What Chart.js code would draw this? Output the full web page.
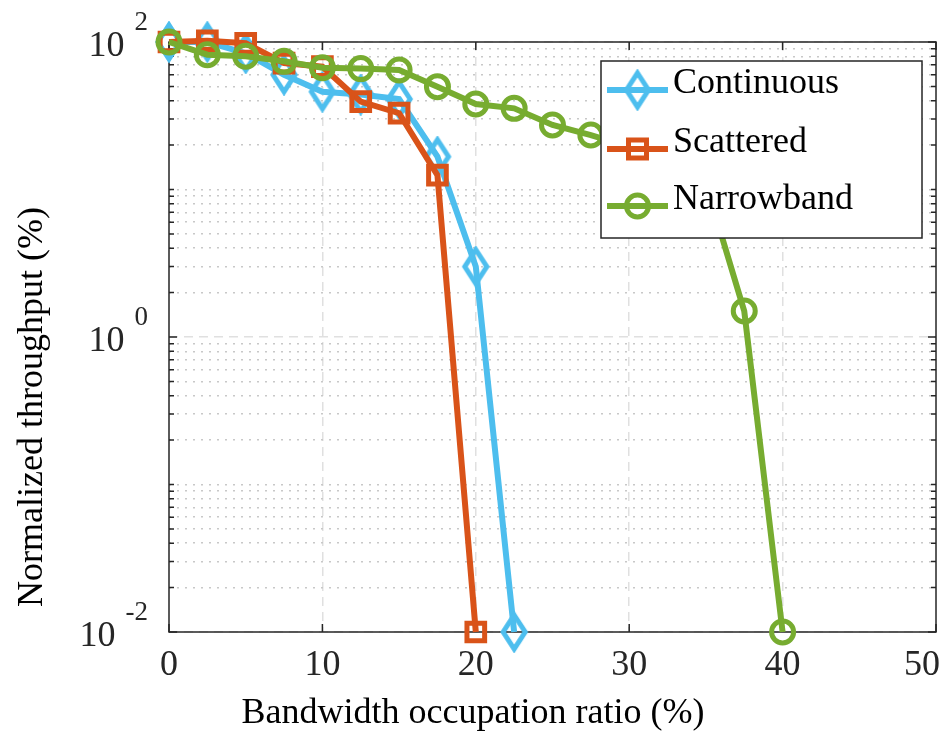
<!DOCTYPE html>
<html>
<head>
<meta charset="utf-8">
<title>Normalized throughput</title>
<script src="https://cdn.jsdelivr.net/npm/chart.js@4.4.0/dist/chart.umd.min.js"></script>
<style>
  html, body { margin: 0; padding: 0; background: #fff; }
  #wrap { width: 947px; height: 740px; }
</style>
</head>
<body>
<div id="wrap"><canvas id="chart" width="947" height="740"></canvas></div>
<script>
// ---- data ----
const ratioContinuous = [0, 2.5, 5, 7.5, 10, 12.5, 15, 17.5, 20, 22.5];
const continuous      = [100, 100, 84, 60, 46, 44, 41, 16.7, 3.0, 0.01];

const ratioScattered  = [0, 2.5, 5, 7.5, 10, 12.5, 15, 17.5, 20];
const scattered       = [100, 102, 98, 72, 68, 39.4, 32.9, 12.5, 0.01];

const ratioNarrowband = [0, 2.5, 5, 7.5, 10, 12.5, 15, 17.5, 20, 22.5, 25, 27.5, 30, 32.5, 35, 37.5, 40];
const narrowband      = [100, 82, 80, 74, 67, 66, 64.6, 49.8, 38, 35.5, 27.4, 23.4, 19.5, 15.5, 11, 1.5, 0.01];

const seriesNames  = ['Continuous', 'Scattered', 'Narrowband'];
const seriesColors = ['#4DBEEE', '#D95319', '#77AC30'];

const xTickValues = [0, 10, 20, 30, 40, 50];
const yMajorValues = [0.01, 1, 100];
const yMajorExponents = ['-2', '0', '2'];
const yMinorFactors = [1, 2, 3, 4, 5, 6, 7, 8, 9];
const yDecades = [0.01, 0.1, 1, 10];

const FONT = '"Liberation Serif", "Times New Roman", serif';
const AXIS_COLOR = '#262626';

// tall diamond like the MATLAB 'd' marker
function makeDiamond(color) {
    const c = document.createElement('canvas');
    c.width = 32; c.height = 42;
    const g = c.getContext('2d');
    g.strokeStyle = color;
    g.lineWidth = 5;
    g.lineJoin = 'miter';
    g.beginPath();
    g.moveTo(16, 4); g.lineTo(27, 21); g.lineTo(16, 38); g.lineTo(5, 21);
    g.closePath();
    g.stroke();
    return c;
}
const diamondMarker = makeDiamond(seriesColors[0]);

const toPoints = (xs, ys) => xs.map((x, i) => ({ x: x, y: ys[i] }));
const isMajor = v => yMajorValues.some(m => Math.abs(v - m) / m < 1e-6);

// all the grid positions on the log axis (1..9 x each decade, plus the top)
const yGridValues = [];
yDecades.forEach(d => yMinorFactors.forEach(f => yGridValues.push(f * d)));
yGridValues.push(100);

// ---- axes box, inward ticks, labels and the boxed legend ----
const matlabAxes = {
    id: 'matlabAxes',
    beforeDatasetsDraw(chart) {
        const ctx = chart.ctx;
        const a = chart.chartArea;
        const xs = chart.scales.x, ys = chart.scales.y;
        ctx.save();
        ctx.strokeStyle = AXIS_COLOR;
        ctx.lineWidth = 1.5;
        ctx.strokeRect(a.left, a.top, a.right - a.left, a.bottom - a.top);
        ctx.beginPath();
        xTickValues.forEach(v => {
            const px = xs.getPixelForValue(v);
            ctx.moveTo(px, a.bottom); ctx.lineTo(px, a.bottom - 8);
            ctx.moveTo(px, a.top); ctx.lineTo(px, a.top + 8);
        });
        yGridValues.forEach(v => {
            const py = ys.getPixelForValue(v);
            const len = isMajor(v) ? 8 : 5;
            ctx.moveTo(a.left, py); ctx.lineTo(a.left + len, py);
            ctx.moveTo(a.right, py); ctx.lineTo(a.right - len, py);
        });
        ctx.stroke();
        ctx.restore();
    },
    afterDraw(chart) {
        const ctx = chart.ctx;
        const xs = chart.scales.x, ys = chart.scales.y;
        ctx.save();

        // x tick labels (the last one is kept inside the figure)
        ctx.fillStyle = AXIS_COLOR;
        ctx.font = '36px ' + FONT;
        ctx.textAlign = 'center';
        ctx.textBaseline = 'alphabetic';
        xTickValues.forEach(v => {
            const label = String(v);
            const half = ctx.measureText(label).width / 2;
            const px = Math.min(xs.getPixelForValue(v), 940 - half);
            ctx.fillText(label, px, 675);
        });

        // y tick labels as 10 with a raised exponent
        yMajorValues.forEach((v, i) => {
            const py = ys.getPixelForValue(v);
            const e = yMajorExponents[i];
            ctx.font = '27px ' + FONT;
            const ew = ctx.measureText(e).width;
            ctx.textAlign = 'left';
            ctx.fillText(e, 148 - ew, py - 12);
            ctx.font = '36px ' + FONT;
            ctx.textAlign = 'right';
            ctx.fillText('10', 148 - ew - 10, py + 14);
        });

        // axis titles
        ctx.fillStyle = '#000';
        ctx.font = '36px ' + FONT;
        ctx.textAlign = 'center';
        ctx.fillText('Bandwidth occupation ratio (%)', 473, 723);
        ctx.save();
        ctx.translate(42, 407);
        ctx.rotate(-Math.PI / 2);
        ctx.fillText('Normalized throughput (%)', 0, 0);
        ctx.restore();

        // legend box
        const box = { left: 601, top: 61, right: 922, bottom: 238 };
        ctx.fillStyle = '#fff';
        ctx.fillRect(box.left, box.top, box.right - box.left, box.bottom - box.top);
        ctx.strokeStyle = AXIS_COLOR;
        ctx.lineWidth = 1.5;
        ctx.strokeRect(box.left, box.top, box.right - box.left, box.bottom - box.top);

        const rows = [90, 149, 206];
        seriesNames.forEach((name, i) => {
            const y = rows[i];
            const color = seriesColors[i];
            ctx.strokeStyle = color;
            ctx.lineWidth = 6;
            ctx.beginPath();
            ctx.moveTo(607, y); ctx.lineTo(668, y);
            ctx.stroke();
            ctx.lineWidth = 5;
            if (i === 0) {
                ctx.drawImage(diamondMarker, 637.5 - 16, y - 21);
            } else if (i === 1) {
                ctx.strokeRect(637.5 - 9, y - 9, 18, 18);
            } else {
                ctx.beginPath();
                ctx.arc(637.5, y, 11, 0, Math.PI * 2);
                ctx.stroke();
            }
            ctx.fillStyle = '#000';
            ctx.font = '36px ' + FONT;
            ctx.textAlign = 'left';
            ctx.fillText(name, 673, y + 3);
        });
        ctx.restore();
    }
};

const ctx = document.getElementById('chart').getContext('2d');
new Chart(ctx, {
    type: 'line',
    data: {
        datasets: [
            {
                label: seriesNames[0],
                data: toPoints(ratioContinuous, continuous),
                borderColor: seriesColors[0],
                borderWidth: 6,
                pointStyle: diamondMarker,
                pointRadius: 12,
                order: 3,
                clip: false
            },
            {
                label: seriesNames[1],
                data: toPoints(ratioScattered, scattered),
                borderColor: seriesColors[1],
                borderWidth: 6,
                pointStyle: 'rect',
                pointRadius: 12.5,
                pointBorderWidth: 5,
                pointBorderColor: seriesColors[1],
                pointBackgroundColor: 'rgba(0,0,0,0)',
                order: 2,
                clip: false
            },
            {
                label: seriesNames[2],
                data: toPoints(ratioNarrowband, narrowband),
                borderColor: seriesColors[2],
                borderWidth: 6,
                pointStyle: 'circle',
                pointRadius: 11,
                pointBorderWidth: 5,
                pointBorderColor: seriesColors[2],
                pointBackgroundColor: 'rgba(0,0,0,0)',
                order: 1,
                clip: false
            }
        ]
    },
    options: {
        responsive: false,
        animation: false,
        devicePixelRatio: 1,
        layout: {
            autoPadding: false,
            padding: { left: 169, right: 11, top: 42, bottom: 108 }
        },
        elements: { line: { tension: 0 } },
        plugins: {
            legend: { display: false },
            tooltip: { enabled: false }
        },
        scales: {
            x: {
                type: 'linear',
                min: 0,
                max: 50,
                afterBuildTicks: scale => { scale.ticks = xTickValues.map(v => ({ value: v })); },
                afterFit: scale => { scale.height = 0; },
                ticks: { display: false },
                grid: {
                    drawTicks: false,
                    lineWidth: 1.5,
                    color: c => (c.tick && c.tick.value > 0 && c.tick.value < 50) ? '#e0e0e0' : 'rgba(0,0,0,0)'
                },
                border: { display: false, dash: [9, 6] }
            },
            y: {
                type: 'logarithmic',
                min: 0.01,
                max: 100,
                afterBuildTicks: scale => { scale.ticks = yGridValues.map(v => ({ value: v })); },
                afterFit: scale => { scale.width = 0; },
                ticks: { display: false },
                grid: {
                    drawTicks: false,
                    lineWidth: 1.5,
                    color: c => (c.tick && isMajor(c.tick.value)) ? '#e0e0e0' : '#c8c8c8'
                },
                border: {
                    display: false,
                    dash: c => (c.tick && isMajor(c.tick.value)) ? [9, 6] : [2, 6]
                }
            }
        }
    },
    plugins: [matlabAxes]
});
</script>
</body>
</html>
